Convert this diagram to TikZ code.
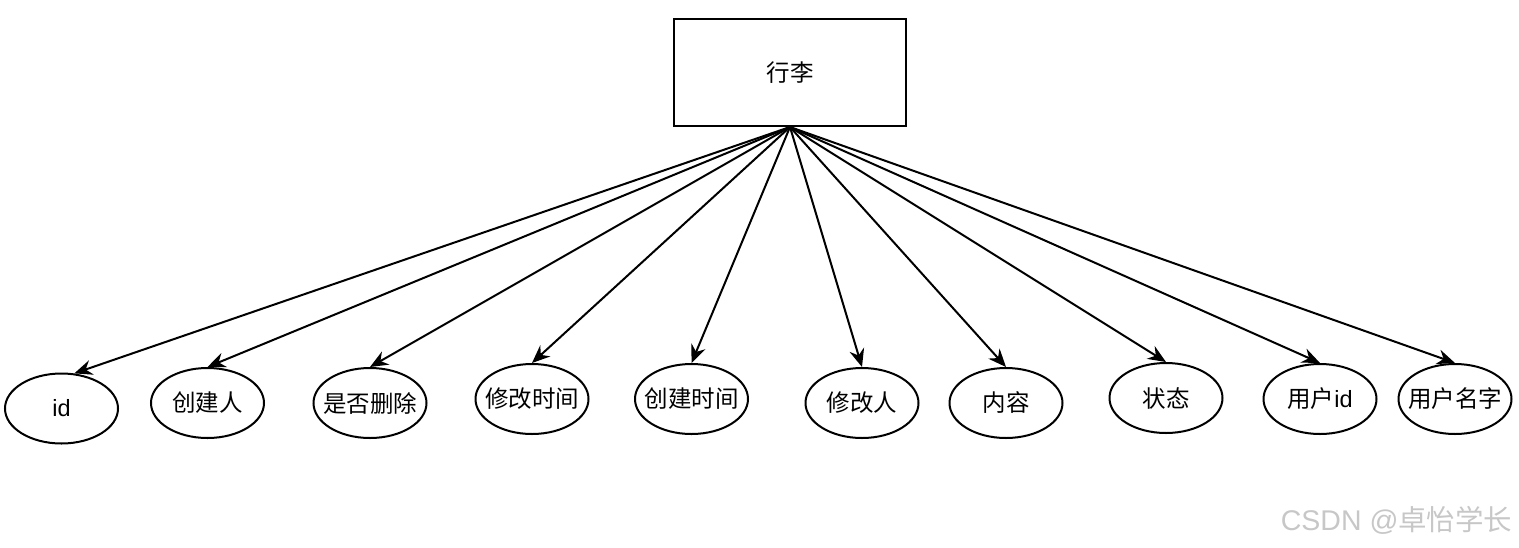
\documentclass[tikz,border=0pt]{standalone}
\usepackage{fontspec}
\setmainfont{Liberation Sans}
\newfontfamily\cjk{Noto Sans CJK SC}
\usetikzlibrary{shapes.geometric,arrows.meta}
\begin{document}
\begin{tikzpicture}[x=1pt,y=1pt,
  every node/.style={font=\fontsize{23.5}{28}\selectfont},
  ent/.style={draw,line width=2pt,minimum width=232pt,minimum height=107pt,inner sep=0pt},
  attr/.style={draw,ellipse,line width=2pt,minimum width=113pt,minimum height=70pt,inner sep=0pt},
  conn/.style={line width=2pt,-{Stealth[length=18pt,width=15pt,inset=6pt]}}]
\useasboundingbox (0,0) rectangle (1519,-547);
\node[ent] (box) at (790,-72.5) {\cjk 行李};
\node[attr,label={center:id}] (a1) at (61.5,-408.5) {};
\node[attr,label={center:{\cjk 创建人}}] (a2) at (207.5,-403) {};
\node[attr,label={center:{\cjk 是否删除}}] (a3) at (370,-403) {};
\node[attr,label={center:{\cjk 修改时间}}] (a4) at (532,-399) {};
\node[attr,label={center:{\cjk 创建时间}}] (a5) at (691.5,-399) {};
\node[attr,label={center:{\cjk 修改人}}] (a6) at (862,-403) {};
\node[attr,label={center:{\cjk 内容}}] (a7) at (1006,-403) {};
\node[attr,label={center:{\cjk 状态}}] (a8) at (1166,-398) {};
\node[attr,label={center:{{\cjk 用户}id}}] (a9) at (1320,-399) {};
\node[attr,label={center:{\cjk 用户名字}}] (a10) at (1455,-399) {};
\draw[conn] (box.south) -- (a1.70);
\foreach \n in {a2,a3,a4,a5,a6,a7,a8,a9,a10}{\draw[conn] (box.south) -- (\n.north);}
\node[text=black!22,font=\fontsize{28.5}{32}\selectfont,anchor=east] (wm) at (1516,-520) {CSDN @{\cjk 卓怡学长}};
\end{tikzpicture}
\end{document}
